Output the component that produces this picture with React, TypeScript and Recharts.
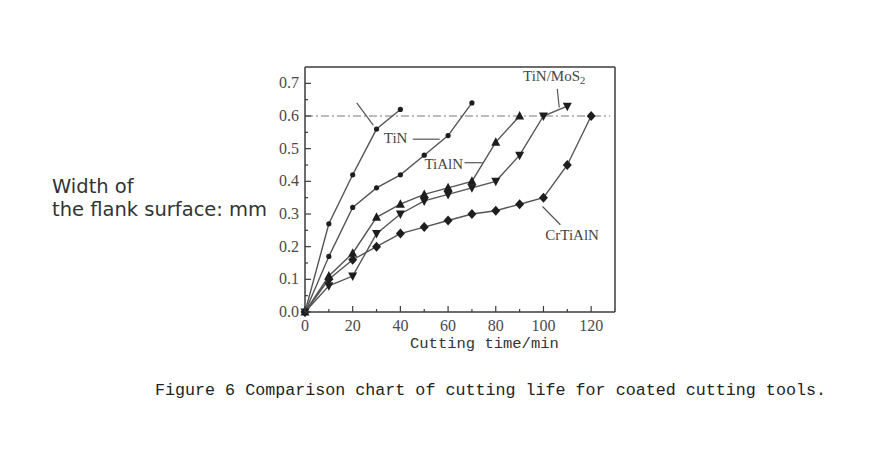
import { LineChart, Line, XAxis, YAxis, ReferenceLine, ReferenceDot } from "recharts";

// cutting time (min)
const times = [0, 10, 20, 30, 40, 50, 60, 70, 80, 90, 100, 110, 120];

// flank wear width (mm)
const steepWear = [0, 0.27, 0.42, 0.56, 0.62];
const tinWear = [0, 0.17, 0.32, 0.38, 0.42, 0.48, 0.54, 0.64];
const tialnWear = [0, 0.11, 0.18, 0.29, 0.33, 0.36, 0.38, 0.4, 0.52, 0.6];
const tinMos2Wear = [0, 0.08, 0.11, 0.24, 0.3, 0.34, 0.36, 0.38, 0.4, 0.48, 0.6, 0.63];
const crtialnWear = [0, 0.1, 0.16, 0.2, 0.24, 0.26, 0.28, 0.3, 0.31, 0.33, 0.35, 0.45, 0.6];

const xTicks = [0, 10, 20, 30, 40, 50, 60, 70, 80, 90, 100, 110, 120];
const yTicks = [0, 0.05, 0.1, 0.15, 0.2, 0.25, 0.3, 0.35, 0.4, 0.45, 0.5, 0.55, 0.6, 0.65, 0.7];
const wearLimit = 0.6;

const data = times.map((t, i) => ({
  t,
  steep: steepWear[i],
  tin: tinWear[i],
  tialn: tialnWear[i],
  mos2: tinMos2Wear[i],
  crtialn: crtialnWear[i],
}));

const INK = "#3c3c3c";
const LINE = "#555";
const TICK_FONT = "'Liberation Serif', 'Times New Roman', serif";

const YTick = ({ x, y, payload }: any) => {
  const v = payload.value;
  const major = Math.round(v * 100) % 10 === 0;
  return (
    <g>
      <line x1={x} x2={x + (major ? 6 : 3)} y1={y} y2={y} stroke={INK} strokeWidth={1.2} />
      {major && (
        <text x={x - 6} y={y} dy={5} textAnchor="end" fontFamily={TICK_FONT} fontSize={16} fill="#4a4a4a">
          {v.toFixed(1)}
        </text>
      )}
    </g>
  );
};

const XTick = ({ x, y, payload }: any) => {
  const v = payload.value;
  const major = v % 20 === 0;
  return (
    <g>
      <line x1={x} x2={x} y1={y} y2={y - (major ? 6 : 3)} stroke={INK} strokeWidth={1.2} />
      {major && (
        <text x={x} y={y} dy={19} textAnchor="middle" fontFamily={TICK_FONT} fontSize={16} fill="#4a4a4a">
          {v}
        </text>
      )}
    </g>
  );
};

const empty = (key: any) => <g key={key} />;

const circleDot = (r: number) => (p: any) =>
  p.cy == null ? empty(p.key) : <circle key={p.key} cx={p.cx} cy={p.cy} r={r} fill="#1e1e1e" />;

const triUp = (p: any) =>
  p.cy == null ? empty(p.key) : (
    <polygon key={p.key} fill="#1e1e1e"
      points={`${p.cx},${p.cy - 5} ${p.cx - 4.5},${p.cy + 3.5} ${p.cx + 4.5},${p.cy + 3.5}`} />
  );

const triDown = (p: any) =>
  p.cy == null ? empty(p.key) : (
    <polygon key={p.key} fill="#1e1e1e"
      points={`${p.cx},${p.cy + 5} ${p.cx - 4.5},${p.cy - 3.5} ${p.cx + 4.5},${p.cy - 3.5}`} />
  );

const diamond = (p: any) =>
  p.cy == null ? empty(p.key) : (
    <polygon key={p.key} fill="#1e1e1e"
      points={`${p.cx},${p.cy - 5} ${p.cx + 4.5},${p.cy} ${p.cx},${p.cy + 5} ${p.cx - 4.5},${p.cy}`} />
  );

const note = (text: string, sub?: string) => (props: any) => {
  const { x, y } = props.viewBox;
  return (
    <text x={x} y={y} dy={5} textAnchor="middle" fontFamily={TICK_FONT} fontSize={15} fill="#444">
      {text}
      {sub && <tspan fontSize={10.5} dy={3}>{sub}</tspan>}
    </text>
  );
};

const pointer = { stroke: "#555", strokeWidth: 1.2 };

export default function App() {
  return (
    <div style={{ position: "absolute", left: 0, top: 0, width: 869, height: 453, background: "#fff" }}>
      <LineChart width={869} height={453} data={data} margin={{ top: 67, right: 254, bottom: 111, left: 265 }}>
        <XAxis
          dataKey="t"
          type="number"
          domain={[0, 130]}
          ticks={xTicks}
          interval={0}
          height={30}
          tickSize={0}
          tickMargin={0}
          tickLine={false}
          axisLine={{ stroke: INK, strokeWidth: 1.5 }}
          tick={<XTick />}
        />
        <YAxis
          type="number"
          domain={[0, 0.75]}
          ticks={yTicks}
          interval={0}
          width={40}
          tickSize={0}
          tickMargin={0}
          tickLine={false}
          axisLine={{ stroke: INK, strokeWidth: 1.5 }}
          tick={<YTick />}
        />
        {/* frame */}
        <ReferenceLine y={0.75} stroke={INK} strokeWidth={1.5} />
        <ReferenceLine x={130} stroke={INK} strokeWidth={1.5} />
        {/* wear limit */}
        <ReferenceLine
          segment={[{ x: 0, y: wearLimit }, { x: 128, y: wearLimit }]}
          stroke="#777"
          strokeWidth={1}
          strokeDasharray="8 3 2 3"
        />

        <Line dataKey="steep" stroke={LINE} strokeWidth={1.4} dot={circleDot(2.6)} activeDot={false} isAnimationActive={false} />
        <Line dataKey="tin" stroke={LINE} strokeWidth={1.4} dot={circleDot(2.6)} activeDot={false} isAnimationActive={false} />
        <Line dataKey="tialn" stroke={LINE} strokeWidth={1.4} dot={triUp} activeDot={false} isAnimationActive={false} />
        <Line dataKey="mos2" stroke={LINE} strokeWidth={1.4} dot={triDown} activeDot={false} isAnimationActive={false} />
        <Line dataKey="crtialn" stroke={LINE} strokeWidth={1.4} dot={diamond} activeDot={false} isAnimationActive={false} />

        {/* label pointers */}
        <ReferenceLine segment={[{ x: 21.7, y: 0.64 }, { x: 28.6, y: 0.572 }]} {...pointer} />
        <ReferenceLine segment={[{ x: 45.2, y: 0.529 }, { x: 56.5, y: 0.529 }]} {...pointer} />
        <ReferenceLine segment={[{ x: 66.9, y: 0.457 }, { x: 74.5, y: 0.457 }]} {...pointer} />
        <ReferenceLine segment={[{ x: 105.8, y: 0.683 }, { x: 106.6, y: 0.626 }]} {...pointer} />
        <ReferenceLine segment={[{ x: 99.6, y: 0.323 }, { x: 107.1, y: 0.267 }]} {...pointer} />

        <ReferenceDot x={38} y={0.534} r={0} fill="none" stroke="none" label={note("TiN")} />
        <ReferenceDot x={58.2} y={0.452} r={0} fill="none" stroke="none" label={note("TiAlN")} />
        <ReferenceDot x={104.5} y={0.722} r={0} fill="none" stroke="none" label={note("TiN/MoS", "2")} />
        <ReferenceDot x={112} y={0.237} r={0} fill="none" stroke="none" label={note("CrTiAlN")} />
      </LineChart>

      <div
        style={{
          position: "absolute",
          left: 52,
          top: 175,
          fontFamily: "'DejaVu Sans', sans-serif",
          fontSize: 19.5,
          lineHeight: "23px",
          color: "#333",
          whiteSpace: "nowrap",
        }}
      >
        Width of
        <br />
        the flank surface: mm
      </div>
      <div
        style={{
          position: "absolute",
          left: 410,
          top: 335,
          fontFamily: "'Liberation Mono', monospace",
          fontSize: 15.5,
          color: "#333",
          whiteSpace: "nowrap",
        }}
      >
        Cutting time/min
      </div>
      <div
        style={{
          position: "absolute",
          left: 155,
          top: 381,
          fontFamily: "'Liberation Mono', monospace",
          fontSize: 16.7,
          color: "#222",
          whiteSpace: "nowrap",
        }}
      >
        Figure 6 Comparison chart of cutting life for coated cutting tools.
      </div>
    </div>
  );
}
